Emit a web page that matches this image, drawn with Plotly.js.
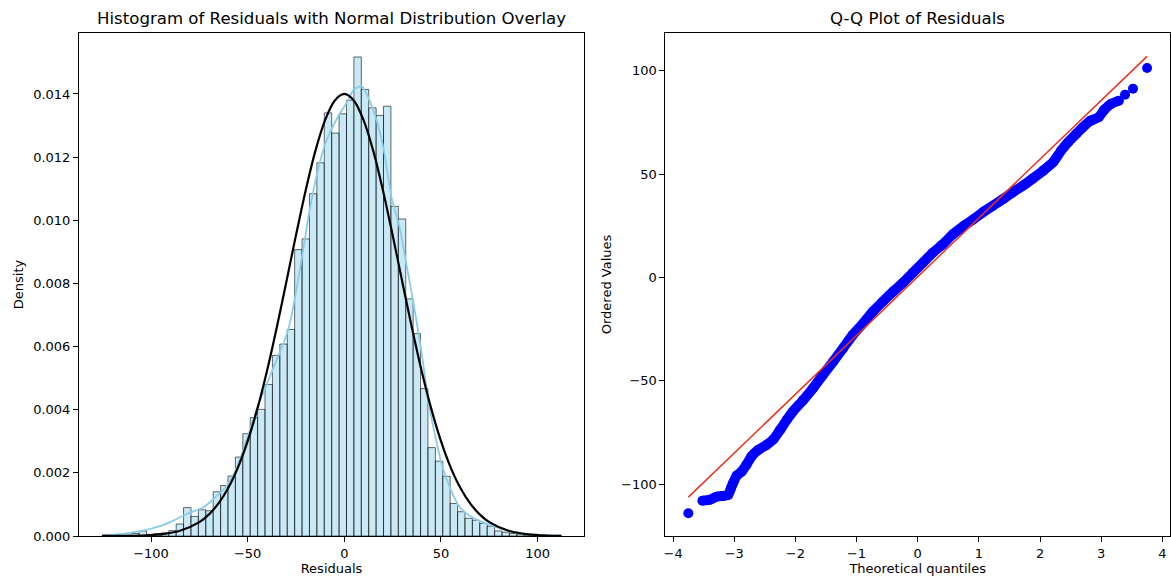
<!DOCTYPE html>
<html>
<head>
<meta charset="utf-8">
<script src="https://cdn.plot.ly/plotly-3.0.1.min.js"></script>
<style>
  html, body { margin: 0; padding: 0; background: #ffffff; }
  #chart { width: 1171px; height: 579px; }
</style>
</head>
<body>
<div id="chart"></div>
<script>
// ---------- Histogram of residuals (density per bin) ----------
const binStart = -125.3;
const binWidth = 3.831;
const binDensity = [
  0.00003, 0.00003, 0.0, 0.00003, 0.00008, 0.00016, 0.00005, 0.00008, 0.0001, 0.00017,
  0.00038, 0.0009, 0.00062, 0.00083, 0.0008, 0.0014, 0.0016, 0.0019, 0.0025, 0.00324,
  0.00375, 0.00401, 0.0048, 0.00572, 0.00608, 0.00654, 0.00907, 0.00941, 0.01084, 0.01182,
  0.0134, 0.01276, 0.01337, 0.0138, 0.01517, 0.01414, 0.01356, 0.01332, 0.01361, 0.01044,
  0.01004, 0.00751, 0.00641, 0.00467, 0.0028, 0.00237, 0.00189, 0.00103, 0.00077, 0.00056,
  0.0005, 0.0004, 0.00031, 0.00016, 0.00012, 0.00008, 0.00006, 0.00004, 0.00003, 0.00002,
  0.0, 0.00002
];

// ---------- KDE curve ----------
const kdeX = [-125.3, -115, -105, -95, -87, -80, -73, -66, -61, -56, -51, -45, -37, -29, -22, -18,
  -14, -10, -6.5, -2.7, 1, 5, 9, 13, 17, 20.5, 24.5, 28.5, 32.3, 36, 40, 43.7, 47.4, 51.2, 55,
  58.8, 62.6, 70, 78, 85, 95, 112.2];
const kdeY = [0.00002, 0.00007, 0.00016, 0.00032, 0.00053, 0.00074, 0.0009, 0.00127, 0.00158,
  0.00211, 0.00296, 0.00405, 0.00528, 0.00654, 0.0088, 0.0103, 0.0115, 0.0124, 0.0129, 0.01334,
  0.0137, 0.01414, 0.01424, 0.0138, 0.0131, 0.0122, 0.0107, 0.0098, 0.00854, 0.0073, 0.0058,
  0.0042, 0.00306, 0.0021, 0.00148, 0.001, 0.00074, 0.00047, 0.0003, 0.00016, 0.00006, 0.00001];

// ---------- Normal distribution overlay ----------
const normX = [-125.3, -115, -105, -95, -85, -75, -70, -65, -60, -55, -50, -45, -40, -35, -30,
  -25, -20, -15, -10, -5, 0, 5, 10, 15, 20, 25, 30, 35, 40, 45, 50, 55, 60, 65, 70, 75, 85, 95,
  105, 112.2];
const normY = [0.0000009, 0.0000041, 0.0000158, 0.000054, 0.000164, 0.000439, 0.000686, 0.001039,
  0.001526, 0.002175, 0.003005, 0.004025, 0.005228, 0.006586, 0.008046, 0.009528, 0.010944,
  0.01219, 0.013164, 0.013786, 0.0140, 0.013786, 0.013164, 0.01219, 0.010944, 0.009528, 0.008046,
  0.006586, 0.005228, 0.004025, 0.003005, 0.002175, 0.001526, 0.001039, 0.000686, 0.000439,
  0.000164, 0.000054, 0.0000158, 0.000006];

// ---------- Q-Q plot ----------
const qqTheoretical = [-3.75, -3.52, -3.40, -3.29, -3.18, -3.10, -3.05, -3.02, -2.96, -2.88, -2.80,
  -2.72, -2.61, -2.47, -2.36, -2.25, -2.14, -2.04, -1.87, -1.71, -1.55, -1.38, -1.22, -1.06, -0.89,
  -0.73, -0.57, -0.40, -0.24, -0.08, 0.08, 0.24, 0.40, 0.58, 0.74, 0.90, 1.07, 1.23, 1.40, 1.56,
  1.72, 1.88, 2.05, 2.21, 2.35, 2.46, 2.59, 2.69, 2.81, 2.96, 3.05, 3.165, 3.29, 3.39, 3.52, 3.75];
const qqOrdered = [-114.0, -107.9, -107.5, -106.0, -105.6, -105.2, -101.6, -99.5, -95.8, -93.9,
  -90.6, -86.6, -83.4, -80.9, -78.3, -73.7, -68.8, -64.8, -59.2, -53.5, -47.1, -40.6, -34.2, -27.7,
  -22.1, -16.4, -11.6, -6.8, -2.5, 2.3, 7.0, 11.8, 15.8, 21.0, 24.6, 27.9, 31.6, 34.7, 38.0, 41.3,
  44.4, 47.8, 51.6, 55.6, 61.5, 65.4, 69.4, 72.3, 75.5, 77.5, 81.1, 84.0, 85.5, 88.4, 91.3, 101.3];
const fitLineX = [-3.75, 3.75];
const fitLineY = [-106.2, 106.9];

const histTickVals = [-100, -50, 0, 50, 100];
const densityTickVals = [0, 0.002, 0.004, 0.006, 0.008, 0.010, 0.012, 0.014];
const qqXTickVals = [-4, -3, -2, -1, 0, 1, 2, 3, 4];
const qqYTickVals = [-100, -50, 0, 50, 100];

// derived: bin centers
const binCenters = binDensity.map((_, i) => binStart + (i + 0.5) * binWidth);
// dense (connected) part of Q-Q points
const denseFrom = 1, denseTo = 52;
const qqDenseX = qqTheoretical.slice(denseFrom, denseTo + 1);
const qqDenseY = qqOrdered.slice(denseFrom, denseTo + 1);

const FONT = "DejaVu Sans, Liberation Sans, sans-serif";

const traces = [
  {
    type: 'bar', x: binCenters, y: binDensity, width: binWidth,
    marker: { color: 'rgba(135,206,235,0.45)', line: { color: 'rgba(0,0,0,0.65)', width: 0.9 } },
    xaxis: 'x', yaxis: 'y', hoverinfo: 'x+y', showlegend: false
  },
  {
    type: 'scatter', mode: 'lines', x: kdeX, y: kdeY,
    line: { color: '#87CEEB', width: 1.8, shape: 'spline', smoothing: 0.8 },
    xaxis: 'x', yaxis: 'y', showlegend: false
  },
  {
    type: 'scatter', mode: 'lines', x: normX, y: normY,
    line: { color: '#000000', width: 2.2, shape: 'spline', smoothing: 0.8 },
    xaxis: 'x', yaxis: 'y', showlegend: false
  },
  {
    type: 'scatter', mode: 'lines', x: qqDenseX, y: qqDenseY,
    line: { color: '#0000ff', width: 10, shape: 'spline', smoothing: 0.5 },
    xaxis: 'x2', yaxis: 'y2', showlegend: false, hoverinfo: 'skip'
  },
  {
    type: 'scatter', mode: 'markers', x: qqTheoretical, y: qqOrdered,
    marker: { color: '#0000ff', size: 10 },
    xaxis: 'x2', yaxis: 'y2', showlegend: false
  },
  {
    type: 'scatter', mode: 'lines', x: fitLineX, y: fitLineY,
    line: { color: '#e8321e', width: 1.5 },
    xaxis: 'x2', yaxis: 'y2', showlegend: false
  }
];

const axisCommon = {
  showline: true, mirror: true, linecolor: '#000000', linewidth: 1,
  ticks: 'outside', ticklen: 5, tickwidth: 1, tickcolor: '#000000',
  showgrid: false, zeroline: false, automargin: false,
  tickfont: { family: FONT, size: 13, color: '#000000' }
};

const layout = {
  width: 1171, height: 579,
  margin: { l: 79, r: 1, t: 33, b: 43 },
  paper_bgcolor: '#ffffff', plot_bgcolor: '#ffffff',
  font: { family: FONT, size: 13, color: '#000000' },
  bargap: 0, barmode: 'overlay',
  showlegend: false,
  xaxis: Object.assign({}, axisCommon, {
    domain: [0, 0.4629], range: [-137.25, 124.0], anchor: 'y',
    tickvals: histTickVals,
    title: { text: 'Residuals', font: { family: FONT, size: 13, color: '#000' }, standoff: 4 }
  }),
  yaxis: Object.assign({}, axisCommon, {
    domain: [0, 1], range: [0, 0.01593], anchor: 'x',
    tickvals: densityTickVals, tickformat: '.3f',
    title: { text: 'Density', font: { family: FONT, size: 13, color: '#000' }, standoff: 6 }
  }),
  xaxis2: Object.assign({}, axisCommon, {
    domain: [0.5375, 1], range: [-4.125, 4.125], anchor: 'y2',
    tickvals: qqXTickVals,
    title: { text: 'Theoretical quantiles', font: { family: FONT, size: 13, color: '#000' }, standoff: 4 }
  }),
  yaxis2: Object.assign({}, axisCommon, {
    domain: [0, 1], range: [-125.0, 118.2], anchor: 'x2',
    tickvals: qqYTickVals,
    title: { text: 'Ordered Values', font: { family: FONT, size: 13, color: '#000' }, standoff: 6 }
  }),
  annotations: [
    {
      text: 'Histogram of Residuals with Normal Distribution Overlay',
      xref: 'paper', yref: 'paper', x: 0.4629 / 2, y: 1, xanchor: 'center', yanchor: 'bottom',
      yshift: 3, showarrow: false, font: { family: FONT, size: 16.6, color: '#000' }
    },
    {
      text: 'Q-Q Plot of Residuals',
      xref: 'paper', yref: 'paper', x: (0.5375 + 1) / 2, y: 1, xanchor: 'center', yanchor: 'bottom',
      yshift: 3, showarrow: false, font: { family: FONT, size: 16.6, color: '#000' }
    }
  ]
};

Plotly.newPlot('chart', traces, layout, { displayModeBar: false, staticPlot: true });
</script>
</body>
</html>
